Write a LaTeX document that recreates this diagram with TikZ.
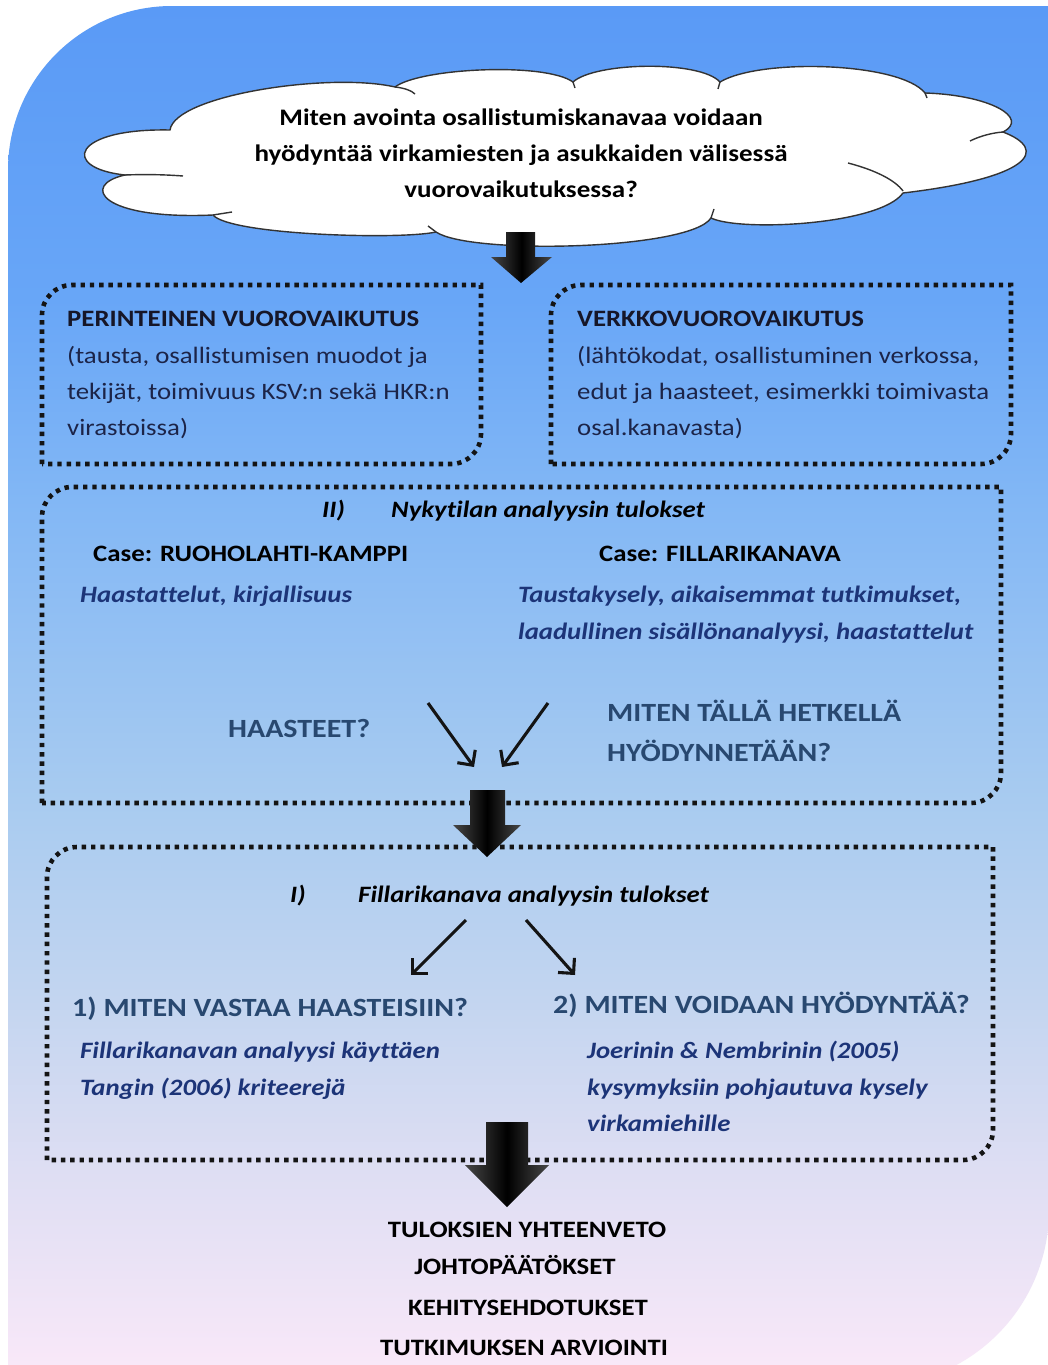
\documentclass[tikz,border=0pt]{standalone}
\usepackage{fontspec}
\setmainfont{Carlito}[FakeStretch=1.14, Ligatures={NoCommon}]
\usetikzlibrary{arrows.meta}
\definecolor{bgA}{RGB}{90,154,246}
\definecolor{bgB}{RGB}{104,166,247}
\definecolor{bgC}{RGB}{130,183,245}
\definecolor{bgD}{RGB}{168,203,240}
\definecolor{bgE}{RGB}{195,213,240}
\definecolor{bgF}{RGB}{222,222,243}
\definecolor{bgG}{RGB}{251,233,249}
\definecolor{ttlcol}{RGB}{22,22,40}
\definecolor{bodycol}{RGB}{28,36,72}
\definecolor{italcol}{RGB}{28,52,120}
\definecolor{bigcol}{RGB}{40,72,112}
\pgfdeclareverticalshading{bgshade}{100bp}{color(0bp)=(bgG); color(25bp)=(bgG); color(32.83bp)=(bgF); color(39bp)=(bgE); color(46.23bp)=(bgD); color(57.1bp)=(bgC); color(64.35bp)=(bgB); color(75bp)=(bgA); color(100bp)=(bgA)}
\tikzset{
  dotbox/.style={line width=4.6pt, dash pattern=on 4.4pt off 4.9pt, draw=black!92},
  blockarrow/.style={left color=black!72, right color=black!72, middle color=black},
  thinarrow/.style={line width=3.1pt, draw=black!92, -{Straight Barb[length=11pt,width=22pt]}},
  cl/.style={font=\fontsize{23.7}{28}\selectfont\bfseries, text=black, inner sep=0pt},
  ttl/.style={font=\fontsize{23.5}{28}\selectfont\bfseries, text=ttlcol, inner sep=0pt},
  body/.style={font=\fontsize{23.5}{28}\selectfont, text=bodycol, inner sep=0pt},
  ital/.style={font=\fontsize{23.5}{28}\selectfont\bfseries\itshape, text=italcol, inner sep=0pt},
  hdr/.style={font=\fontsize{23.5}{28}\selectfont\bfseries\itshape, text=black, inner sep=0pt},
  big/.style={font=\fontsize{26.3}{30}\selectfont\bfseries, text=bigcol, inner sep=0pt},
}
\newcommand{\mydotbox}[5]{%
  \draw[dotbox] (#1,#4) -- (#1,{#2+#5}) .. controls (#1,{#2+0.45*#5}) and ({#1+0.45*#5},#2) .. ({#1+#5},#2) -- (#3,#2) -- (#3,{#4-#5}) .. controls (#3,{#4-0.45*#5}) and ({#3-0.45*#5},#4) .. ({#3-#5},#4) -- cycle;}
\begin{document}
\begin{tikzpicture}[x=1pt,y=-1pt]
\useasboundingbox (0,0) rectangle (1048,1365);
\clip (0,0) rectangle (1048,1365);
\fill[white] (0,0) rectangle (1048,1365);
% background
\shade[shading=bgshade] (8,1386) -- (8,170) .. controls (8,79.4) and (81.4,6) .. (172,6) -- (1049,6) -- (1049,1210) .. controls (1049,1307.2) and (970.2,1386) .. (873,1386) -- cycle;
% cloud
\filldraw[fill=white, draw=black!80, line width=1.4pt]
  (125,175) .. controls (60,168) and (72,128) .. (170,130)
  .. controls (175,95) and (330,72) .. (395,87)
  .. controls (420,68) and (545,62) .. (573,82)
  .. controls (595,62) and (700,60) .. (720,82)
  .. controls (760,58) and (900,62) .. (925,93)
  .. controls (990,95) and (1030,118) .. (1003,132)
  .. controls (1050,150) and (1030,178) .. (903,193)
  .. controls (880,225) and (740,232) .. (711,218)
  .. controls (690,250) and (470,255) .. (436,232)
  .. controls (400,240) and (230,235) .. (213,215)
  .. controls (100,220) and (80,185) .. (125,175) -- cycle;
\draw[draw=black!80, line width=1.4pt]
  (395,87) .. controls (405,88) and (412,91) .. (415,94)
  (125,175) .. controls (150,174) and (170,175) .. (183,176)
  (213,215) -- (232,212)
  (711,218) -- (714,209)
  (848,163) .. controls (875,170) and (895,180) .. (903,191)
  (1003,132) .. controls (990,133) and (978,137) .. (970,141)
  (573,82) -- (575,88)
  (720,82) -- (718,89)
  (925,93) -- (927,98)
  (436,232) -- (428,226);
\node[cl, anchor=base] (q1) at (521,125) {Miten avointa osallistumiskanavaa voidaan};
\node[cl, anchor=base] (q2) at (521,161) {hyödyntää virkamiesten ja asukkaiden välisessä};
\node[cl, anchor=base] (q3) at (521,197) {vuorovaikutuksessa?};
% dotted boxes
\mydotbox{42}{285}{481}{464}{30}
\mydotbox{551}{285}{1011}{464}{30}
\mydotbox{42}{487}{1001}{803}{30}
\mydotbox{47}{847}{993}{1160}{30}
% box A
\node[ttl, anchor=base west] (a0) at (67,326) {PERINTEINEN VUOROVAIKUTUS};
\node[body, anchor=base west] (a1) at (67,363) {(tausta, osallistumisen muodot ja};
\node[body, anchor=base west] (a2) at (67,399) {tekijät, toimivuus KSV:n sekä HKR:n};
\node[body, anchor=base west] (a3) at (67,435) {virastoissa)};
% box B
\node[ttl, anchor=base west] (b0) at (577,326) {VERKKOVUOROVAIKUTUS};
\node[body, anchor=base west] (b1) at (577,363) {(lähtökodat, osallistuminen verkossa,};
\node[body, anchor=base west] (b2) at (577,399) {edut ja haasteet, esimerkki toimivasta};
\node[body, anchor=base west] (b3) at (577,435) {osal.kanavasta)};
% box II
\node[hdr, anchor=base west] (h2a) at (322,517) {II)};
\node[hdr, anchor=base west] (h2b) at (391,517) {Nykytilan analyysin tulokset};
\node[ttl, text=black, anchor=base west] (c1) at (93,561) {Case: RUOHOLAHTI-KAMPPI};
\node[ital, anchor=base west] (c1i) at (80,602) {Haastattelut, kirjallisuus};
\node[ttl, text=black, anchor=base west] (c2) at (599,561) {Case: FILLARIKANAVA};
\node[ital, anchor=base west] (c2i) at (518,602) {Taustakysely, aikaisemmat tutkimukset,};
\node[ital, anchor=base west] (c2j) at (518,639) {laadullinen sisällönanalyysi, haastattelut};
\node[big, anchor=base west] (hq) at (228,737) {HAASTEET?};
\node[big, anchor=base west] (mq1) at (607,721) {MITEN TÄLLÄ HETKELLÄ};
\node[big, anchor=base west] (mq2) at (607,761) {HYÖDYNNETÄÄN?};
\coordinate (t1s) at (428,703);
\coordinate (t1e) at (474,767);
\coordinate (t2s) at (548,703);
\coordinate (t2e) at (502,767);
\draw[thinarrow] (t1s) -- (t1e);
\draw[thinarrow] (t2s) -- (t2e);
% box I
\node[hdr, anchor=base west] (h1a) at (290,902) {I)};
\node[hdr, anchor=base west] (h1b) at (358,902) {Fillarikanava analyysin tulokset};
\coordinate (t3s) at (466,920);
\coordinate (t3e) at (411,975);
\coordinate (t4s) at (526,920);
\coordinate (t4e) at (575,975);
\draw[thinarrow] (t3s) -- (t3e);
\draw[thinarrow] (t4s) -- (t4e);
\node[big, anchor=base west] (r1) at (72,1016) {1) MITEN VASTAA HAASTEISIIN?};
\node[ital, anchor=base west] (r1a) at (80,1058) {Fillarikanavan analyysi käyttäen};
\node[ital, anchor=base west] (r1b) at (80,1095) {Tangin (2006) kriteerejä};
\node[big, anchor=base west] (r2) at (553,1013) {2) MITEN VOIDAAN HYÖDYNTÄÄ?};
\node[ital, anchor=base west] (r2a) at (587,1058) {Joerinin \& Nembrinin (2005)};
\node[ital, anchor=base west] (r2b) at (587,1095) {kysymyksiin pohjautuva kysely};
\node[ital, anchor=base west] (r2c) at (587,1131) {virkamiehille};
% bottom
\node[ttl, text=black, anchor=base] (s1) at (527,1237) {TULOKSIEN YHTEENVETO};
\node[ttl, text=black, anchor=base] (s2) at (515,1274) {JOHTOPÄÄTÖKSET};
\node[ttl, text=black, anchor=base] (s3) at (528,1315) {KEHITYSEHDOTUKSET};
\node[ttl, text=black, anchor=base] (s4) at (524,1355) {TUTKIMUKSEN ARVIOINTI};
% block arrows
\shade[blockarrow] (506,232) -- (535,232) -- (535,257) -- (552,257) -- (521,283) -- (491,257) -- (506,257) -- cycle;
\shade[blockarrow] (470,790) -- (505,790) -- (505,825) -- (521,825) -- (487,857) -- (453,825) -- (470,825) -- cycle;
\shade[blockarrow] (486,1122) -- (528,1122) -- (528,1165) -- (549,1165) -- (507,1207) -- (465,1165) -- (486,1165) -- cycle;
\end{tikzpicture}
\end{document}
